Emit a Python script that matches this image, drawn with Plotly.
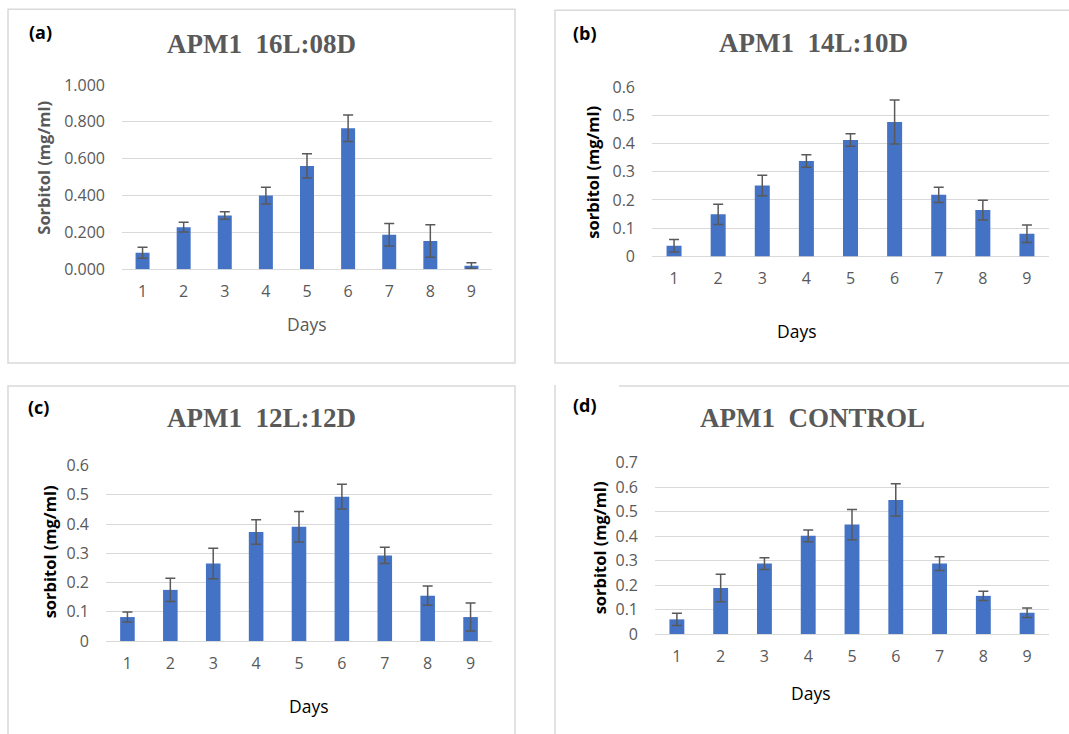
import plotly.graph_objects as go

W, H = 1069, 734

days = [1, 2, 3, 4, 5, 6, 7, 8, 9]
day_labels = ["1", "2", "3", "4", "5", "6", "7", "8", "9"]

vals_a = [0.090, 0.229, 0.292, 0.400, 0.561, 0.765, 0.188, 0.154, 0.020]
err_a = [0.030, 0.027, 0.020, 0.045, 0.066, 0.072, 0.061, 0.088, 0.016]

vals_b = [0.038, 0.149, 0.251, 0.338, 0.412, 0.476, 0.218, 0.164, 0.080]
err_b = [0.022, 0.036, 0.036, 0.022, 0.022, 0.078, 0.027, 0.035, 0.031]

vals_c = [0.082, 0.175, 0.265, 0.373, 0.391, 0.494, 0.293, 0.155, 0.082]
err_c = [0.017, 0.040, 0.052, 0.042, 0.052, 0.042, 0.028, 0.033, 0.048]

vals_d = [0.060, 0.188, 0.288, 0.401, 0.447, 0.548, 0.288, 0.156, 0.087]
err_d = [0.025, 0.056, 0.024, 0.024, 0.062, 0.066, 0.028, 0.019, 0.019]

titles = ["APM1  16L:08D", "APM1  14L:10D", "APM1  12L:12D", "APM1  CONTROL"]
panel_tags = ["(a)", "(b)", "(c)", "(d)"]
ytitles = ["Sorbitol (mg/ml)", "sorbitol (mg/ml)", "sorbitol (mg/ml)", "sorbitol (mg/ml)"]

BAR = "#4472C4"
GRID = "#d9d9d9"
GRAY = "#595959"
SANS = "Open Sans"
SERIF = "Liberation Serif"

# the photograph maps page rows [-10, 744] onto image rows [0, 734]
V_OFF = 10.0
V_SCALE = 754.0 / 734.0


def px(x):
    return x / W


def py(y):
    y_page = y * V_SCALE - V_OFF
    return 1 - y_page / H


panels = [
    dict(vals=vals_a, err=err_a, l=122, r=492, t=84, b=269, yr=[0, 1.0], dt=0.2,
         fmt=".3f", tx=261, ty=43, gx=40, gy=31, ytx=44, yty=167, dx=307, dy=324,
         ycol=GRAY, dcol=GRAY),
    dict(vals=vals_b, err=err_b, l=652, r=1049, t=86, b=256, yr=[0, 0.6], dt=0.1,
         fmt="", tx=813, ty=42, gx=585, gy=32, ytx=593, yty=172, dx=797, dy=331,
         ycol="black", dcol="black"),
    dict(vals=vals_c, err=err_c, l=106, r=492, t=466, b=642, yr=[0, 0.6], dt=0.1,
         fmt="", tx=261, ty=418, gx=38, gy=407, ytx=49, yty=553, dx=309, dy=707,
         ycol="black", dcol="black"),
    dict(vals=vals_d, err=err_d, l=655, r=1049, t=463, b=635, yr=[0, 0.7], dt=0.1,
         fmt="", tx=812, ty=418, gx=585, gy=405, ytx=599, yty=549, dx=811, dy=694,
         ycol="black", dcol="black"),
]

fig = go.Figure()
annotations = []
layout_axes = {}

for i, p in enumerate(panels):
    n = i + 1
    xa = "x" if n == 1 else f"x{n}"
    ya = "y" if n == 1 else f"y{n}"
    fig.add_trace(go.Bar(
        x=days, y=p["vals"], xaxis=xa, yaxis=ya,
        marker=dict(color=BAR, line=dict(width=0)),
        width=0.34,
        error_y=dict(type="data", array=p["err"], visible=True,
                     color=GRAY, thickness=1.5, width=5),
        showlegend=False,
    ))
    xkey = "xaxis" if n == 1 else f"xaxis{n}"
    ykey = "yaxis" if n == 1 else f"yaxis{n}"
    layout_axes[xkey] = dict(
        domain=[px(p["l"]), px(p["r"])], anchor=ya, range=[0.5, 9.5],
        tickmode="array", tickvals=days, ticktext=day_labels,
        showgrid=False, zeroline=False, showline=False, ticks="",
        tickfont=dict(family=SANS, size=16, color=GRAY),
        ticklabelstandoff=11, fixedrange=True,
    )
    layout_axes[ykey] = dict(
        domain=[py(p["b"]), py(p["t"])], anchor=xa, range=p["yr"],
        dtick=p["dt"], tick0=0, tickformat=p["fmt"],
        showgrid=True, gridcolor=GRID, gridwidth=1,
        zeroline=True, zerolinecolor=GRID, zerolinewidth=1,
        showline=False, ticks="",
        tickfont=dict(family=SANS, size=16, color=GRAY),
        ticklabelstandoff=16, fixedrange=True,
    )
    annotations.append(dict(
        text=f"<b>{titles[i]}</b>", x=px(p["tx"]), y=py(p["ty"]),
        xref="paper", yref="paper", xanchor="center", yanchor="middle",
        showarrow=False, font=dict(family=SERIF, size=27, color=GRAY)))
    annotations.append(dict(
        text=f"<b>{panel_tags[i]}</b>", x=px(p["gx"]), y=py(p["gy"]),
        xref="paper", yref="paper", xanchor="center", yanchor="middle",
        showarrow=False, font=dict(family=SANS, size=18, color="black")))
    annotations.append(dict(
        text=f"<b>{ytitles[i]}</b>", x=px(p["ytx"]), y=py(p["yty"]),
        xref="paper", yref="paper", xanchor="center", yanchor="middle",
        textangle=-90, showarrow=False,
        font=dict(family=SANS, size=16.5, color=p["ycol"])))
    annotations.append(dict(
        text="Days", x=px(p["dx"]), y=py(p["dy"]),
        xref="paper", yref="paper", xanchor="center", yanchor="middle",
        showarrow=False, font=dict(family=SANS, size=17.5, color=p["dcol"])))

shape_line = dict(color=GRID, width=1.5)
shapes = [
    dict(type="rect", xref="paper", yref="paper", x0=px(8), x1=px(515), y0=py(363), y1=py(8), line=shape_line),
    dict(type="rect", xref="paper", yref="paper", x0=px(555), x1=px(1075), y0=py(363), y1=py(9), line=shape_line),
    dict(type="rect", xref="paper", yref="paper", x0=px(8), x1=px(515), y0=py(745), y1=py(386), line=shape_line),
    dict(type="line", xref="paper", yref="paper", x0=px(555), x1=px(555), y0=py(385), y1=py(745), line=shape_line),
    dict(type="line", xref="paper", yref="paper", x0=px(619), x1=px(1075), y0=py(386), y1=py(386), line=shape_line),
]

fig.update_layout(
    width=W, height=H,
    margin=dict(l=0, r=0, t=0, b=0),
    paper_bgcolor="white", plot_bgcolor="white",
    bargap=0.66,
    annotations=annotations, shapes=shapes,
    **layout_axes,
)

fig.write_html(
    "out.html",
    config={"displayModeBar": False},
    post_script="document.body.style.margin='0';document.body.style.overflow='hidden';",
)
